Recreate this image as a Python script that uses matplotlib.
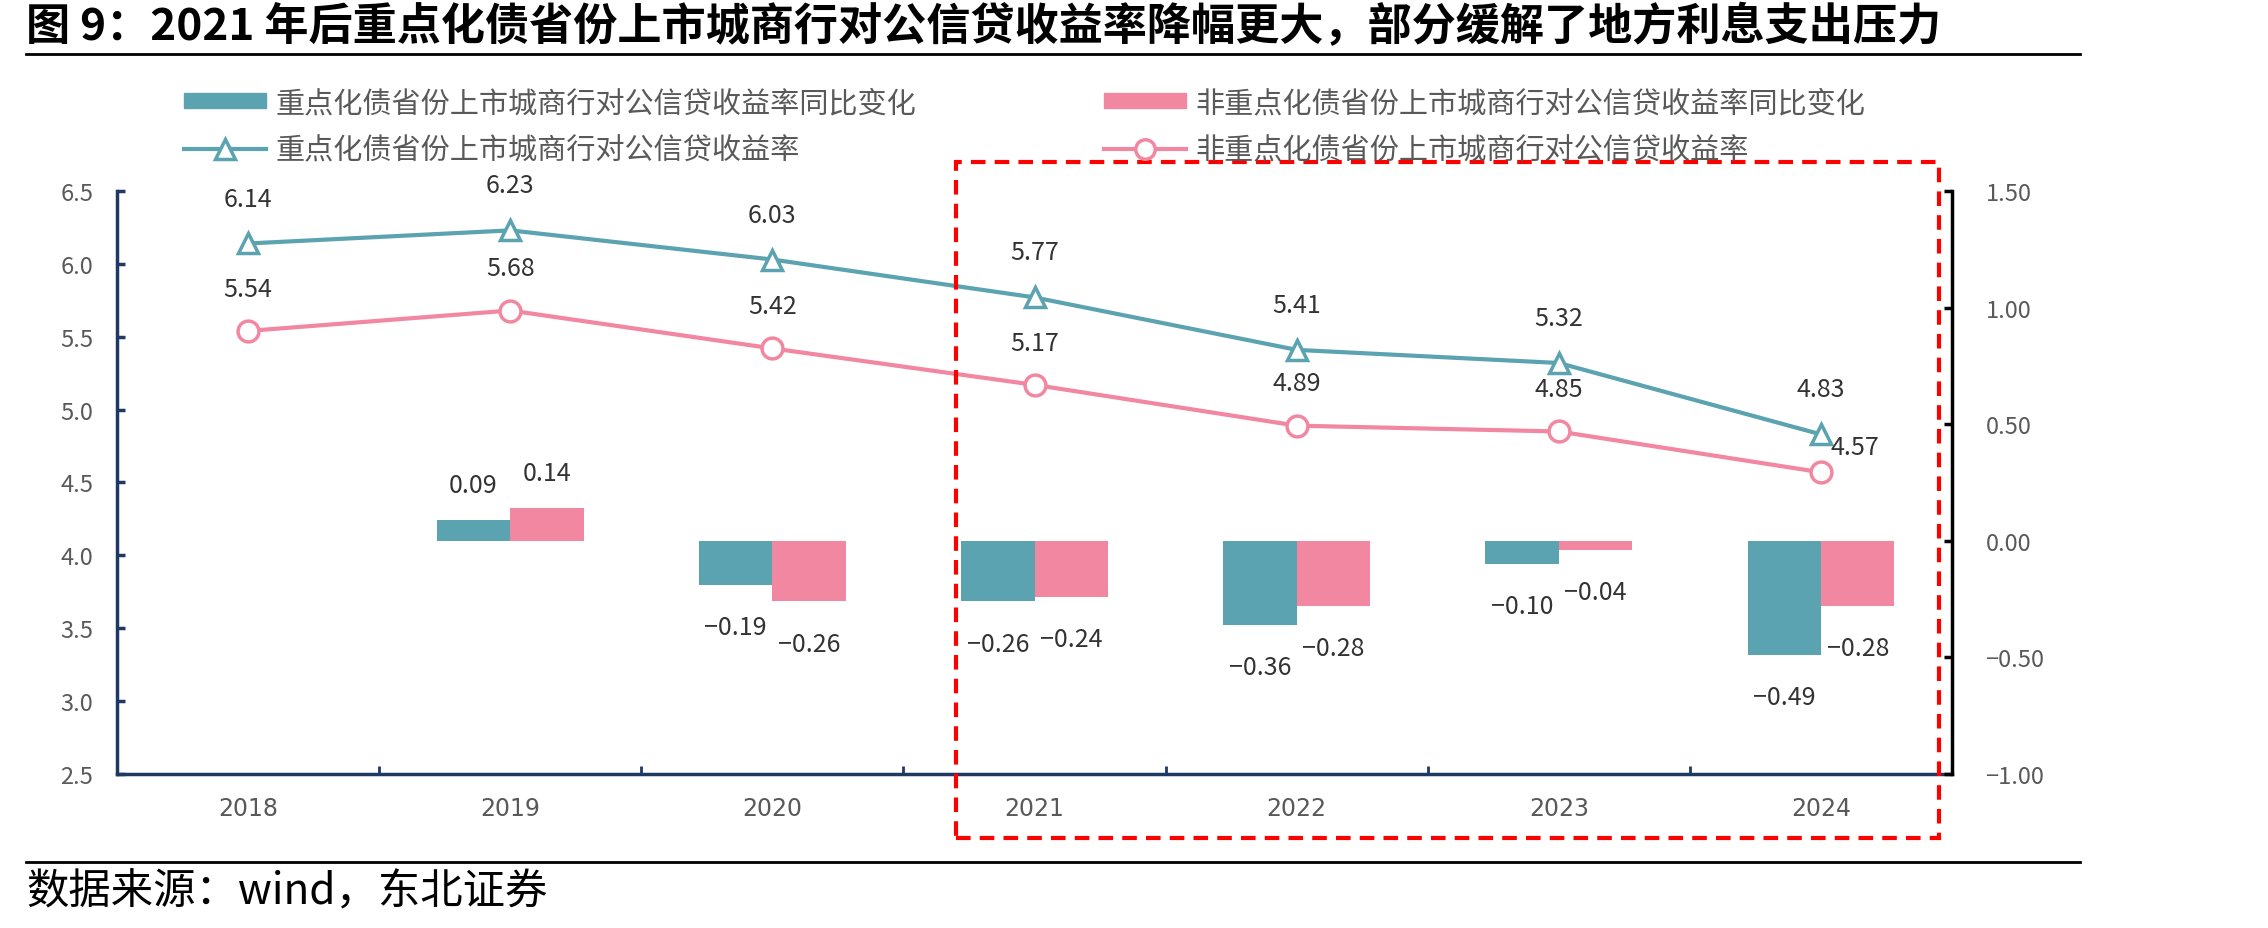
import matplotlib
matplotlib.use("Agg")
import matplotlib.pyplot as plt
from matplotlib.patches import Rectangle
from matplotlib.lines import Line2D

plt.rcParams['font.family'] = ['Noto Sans CJK SC', 'DejaVu Sans']
plt.rcParams['axes.unicode_minus'] = False

# 数据
years = ['2018', '2019', '2020', '2021', '2022', '2023', '2024']
rate_key = [6.14, 6.23, 6.03, 5.77, 5.41, 5.32, 4.83]
rate_other = [5.54, 5.68, 5.42, 5.17, 4.89, 4.85, 4.57]
chg_key = [None, 0.09, -0.19, -0.26, -0.36, -0.10, -0.49]
chg_other = [None, 0.14, -0.26, -0.24, -0.28, -0.04, -0.28]

lbl_chg_key = '重点化债省份上市城商行对公信贷收益率同比变化'
lbl_chg_other = '非重点化债省份上市城商行对公信贷收益率同比变化'
lbl_rate_key = '重点化债省份上市城商行对公信贷收益率'
lbl_rate_other = '非重点化债省份上市城商行对公信贷收益率'

teal = '#5BA3B0'
pink = '#F287A1'
navy = '#1F3864'
grey = '#595959'

fig = plt.figure(figsize=(22.68, 9.29), dpi=100)
ax = fig.add_axes([0.0516, 0.1658, 0.8091, 0.6275])
ax2 = ax.twinx()

x = list(range(len(years)))
w = 0.28

# 柱子（右轴）
bx1 = [i - w / 2 for i, v in zip(x, chg_key) if v is not None]
bv1 = [v for v in chg_key if v is not None]
bx2 = [i + w / 2 for i, v in zip(x, chg_other) if v is not None]
bv2 = [v for v in chg_other if v is not None]
ax2.bar(bx1, bv1, width=w, color=teal, zorder=2)
ax2.bar(bx2, bv2, width=w, color=pink, zorder=2)
for xs, vs in ((bx1, bv1), (bx2, bv2)):
    for xi, v in zip(xs, vs):
        if v >= 0:
            ax2.annotate(f'{v:.2f}', (xi, v), xytext=(0, 16), textcoords='offset points',
                         ha='center', va='bottom', fontsize=18, color='#333333')
        else:
            ax2.annotate(f'{v:.2f}'.replace('-', '−'), (xi, v), xytext=(0, -21),
                         textcoords='offset points', ha='center', va='top',
                         fontsize=18, color='#333333')

# 折线（左轴）
ax.plot(x, rate_key, color=teal, lw=3, marker='^', ms=15, mfc='white', mec=teal, mew=2.5, zorder=3)
ax.plot(x, rate_other, color=pink, lw=3, marker='o', ms=15, mfc='white', mec=pink, mew=2.5, zorder=3)
for i, v in enumerate(rate_key):
    ax.annotate(f'{v:.2f}', (i, v), xytext=(0, 23), textcoords='offset points',
                ha='center', va='bottom', fontsize=18, color='#333333')
for i, v in enumerate(rate_other):
    if i == len(rate_other) - 1:
        ax.annotate(f'{v:.2f}', (i, v), xytext=(7, 18), textcoords='offset points',
                    ha='left', va='center', fontsize=18, color='#333333')
    else:
        ax.annotate(f'{v:.2f}', (i, v), xytext=(0, 21), textcoords='offset points',
                    ha='center', va='bottom', fontsize=18, color='#333333')

# 坐标轴
ax.set_xlim(-0.5, 6.5)
ax.set_ylim(2.5, 6.5)
ax2.set_ylim(-1.0, 1.5)
ax.set_yticks([2.5, 3.0, 3.5, 4.0, 4.5, 5.0, 5.5, 6.0, 6.5])
ax.set_yticklabels([f'{t:.1f}' for t in ax.get_yticks()])
ax2.set_yticks([-1.0, -0.5, 0.0, 0.5, 1.0, 1.5])
ax2.set_yticklabels([f'{t:.2f}'.replace('-', '−') for t in ax2.get_yticks()])
ax.set_xticks(x)
ax.set_xticklabels(years, family=['Liberation Sans Narrow', 'DejaVu Sans'])
ax.set_xticks([i + 0.5 for i in x[:-1]], minor=True)

for s in ['top', 'right']:
    ax.spines[s].set_visible(False)
for s in ['top', 'left', 'bottom']:
    ax2.spines[s].set_visible(False)
ax.spines['left'].set_color(navy)
ax.spines['left'].set_linewidth(2.5)
ax.spines['bottom'].set_color(navy)
ax.spines['bottom'].set_linewidth(2.5)
ax2.spines['right'].set_color('black')
ax2.spines['right'].set_linewidth(2.5)

ax.tick_params(axis='y', direction='in', length=6, width=2.5, color=navy,
               labelsize=17, labelcolor=grey, pad=17)
ax.tick_params(axis='x', which='major', length=0, labelsize=17, labelcolor=grey, pad=16)
ax.tick_params(axis='x', which='minor', direction='in', length=6, width=2, color=navy)
ax2.tick_params(axis='y', direction='in', length=6, width=2.5, color='black',
                labelsize=17, labelcolor=grey, pad=24)

# 红色虚线框
box = Rectangle((2.70, 2.06), 6.45 - 2.70, 6.70 - 2.06, fill=False, edgecolor='#FF0000',
                lw=3, linestyle=(0, (3.5, 2.2)), clip_on=False, zorder=5)
ax.add_patch(box)

# 图例
h1 = Rectangle((0, 0), 1, 1, color=teal)
h2 = Rectangle((0, 0), 1, 1, color=pink)
h3 = Line2D([], [], color=teal, lw=3, marker='^', ms=14, mfc='white', mec=teal, mew=2.5)
h4 = Line2D([], [], color=pink, lw=3, marker='o', ms=14, mfc='white', mec=pink, mew=2.5)
for hs, ls, xpos in (([h1, h3], [lbl_chg_key, lbl_rate_key], 184 / 2268),
                     ([h2, h4], [lbl_chg_other, lbl_rate_other], 1104 / 2268)):
    leg = fig.legend(hs, ls, loc='upper left', bbox_to_anchor=(xpos, 1 - 89 / 929),
                     frameon=False, fontsize=21, handlelength=2.8, handleheight=0.45,
                     handletextpad=0.35, labelspacing=0.6, borderpad=0, borderaxespad=0)
    for t in leg.get_texts():
        t.set_color(grey)

# 标题与来源
fig.text(26 / 2268, 1 - 27 / 929,
         '图 9：2021 年后重点化债省份上市城商行对公信贷收益率降幅更大，部分缓解了地方利息支出压力',
         fontsize=31.8, fontweight='bold', ha='left', va='center', color='black')
fig.add_artist(Line2D([26 / 2268, 2080 / 2268], [1 - 55 / 929, 1 - 55 / 929],
                      color='black', lw=2))
fig.add_artist(Line2D([26 / 2268, 2080 / 2268], [1 - 863 / 929, 1 - 863 / 929],
                      color='black', lw=2))
fig.text(26 / 2268, 1 - 893 / 929, '数据来源：wind，东北证券', fontsize=30.5,
         ha='left', va='center', color='black')

fig.savefig('out.png', dpi=100)
